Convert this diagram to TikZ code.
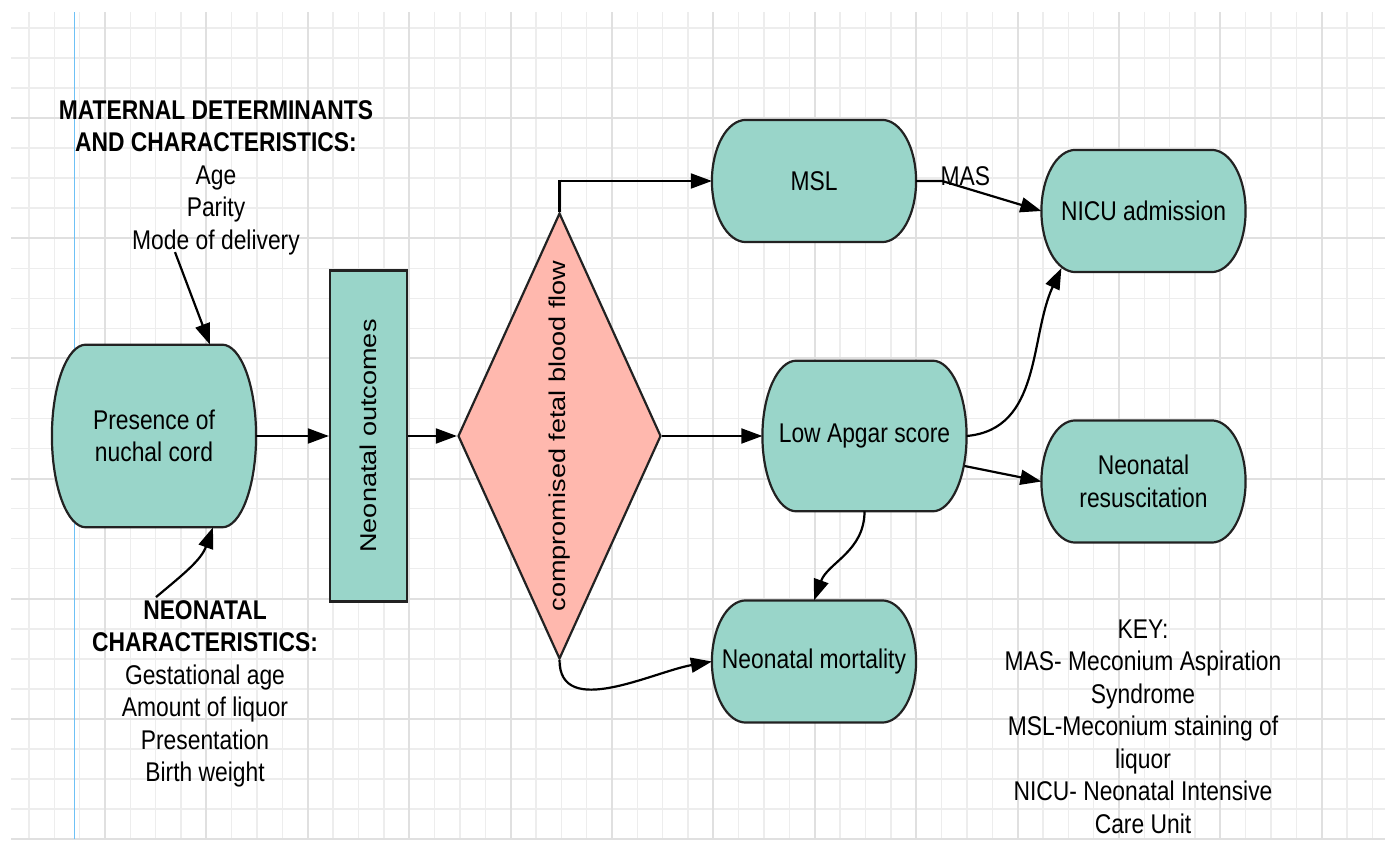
\documentclass[tikz,border=0pt]{standalone}
\usepackage{fontspec}
\setmainfont{Liberation Sans}[FakeStretch=0.844]
\newfontfamily\rotfont{Liberation Sans}[FakeStretch=1.185]
\usepackage{xcolor}
\usepackage{tikz}
\usetikzlibrary{
  arrows.meta, positioning, calc, shapes.geometric, backgrounds
}

\definecolor{boxteal}{HTML}{99D5C9}
\definecolor{diasalmon}{HTML}{FFB8AE}
\definecolor{gridminor}{HTML}{EDEDED}
\definecolor{gridmajor}{HTML}{E0E0E0}
\definecolor{gridblue}{HTML}{6EC1F5}
\definecolor{edgegray}{HTML}{222222}

\newcommand{\termrx}{0.68cm}
\newcommand{\termpath}[1]{%
  \path[termbox] let \p1=(#1.north east), \p2=(#1.south west), \n1={0.5*(\y1-\y2)} in
    (\x2+\termrx,\y1) -- (\x1-\termrx,\y1)
    arc[start angle=90, end angle=-90, x radius=\termrx, y radius=\n1]
    -- (\x2+\termrx,\y2)
    arc[start angle=270, end angle=90, x radius=\termrx, y radius=\n1] -- cycle;}

\begin{document}
\begin{tikzpicture}[
      x=0.02cm, y=0.02cm,
      font=\fontsize{15.4pt}{18.5pt}\selectfont,
      term/.style={minimum width=4.07cm, minimum height=2.43cm, inner sep=0pt, align=center},
      termbox/.style={draw=edgegray, fill=boxteal, line width=1.25pt},
      bar/.style={draw=edgegray, fill=boxteal, line width=1.25pt, inner sep=0pt},
      txt/.style={inner sep=0pt, align=center},
      flow/.style={-{Triangle[length=12pt, width=8.5pt]}, line width=1.25pt},
      gridthin/.style={draw=gridminor, line width=0.8pt},
      gridthick/.style={draw=gridmajor, line width=1.1pt},
    ]
    \useasboundingbox (0,0) rectangle (1389,842);

    \node[term, minimum height=3.64cm] (pres) at (154,406) {Presence of\\nuchal cord};
    \node[bar, minimum width=1.54cm, minimum height=6.62cm] (outc) at (368.5,406)
      {\rotatebox{90}{\rotfont\fontsize{13pt}{15pt}\selectfont Neonatal outcomes}};
    \node[bar, diamond, fill=diasalmon, aspect=0.455, minimum width=4.06cm, minimum height=8.92cm] (cfbf) at (559.5,406)
      {\rotatebox{90}{\rotfont\fontsize{13pt}{15pt}\selectfont compromised fetal blood flow}};
    \node[term] (msl) at (814,661) {MSL};
    \node[term] (nicu) at (1143.5,631) {NICU admission};
    \node[term, minimum height=3cm] (apgar) at (864.5,406) {Low Apgar score};
    \node[term] (resus) at (1143.5,360.5) {Neonatal\\resuscitation};
    \node[term] (mort) at (814,180.5) {Neonatal mortality};

    \node[txt] (mat) at (216,664.5) {\textbf{MATERNAL DETERMINANTS}\\\textbf{AND CHARACTERISTICS:}\\Age\\Parity\\Mode of delivery};
    \node[txt] (neo) at (205,148) {\textbf{NEONATAL}\\\textbf{CHARACTERISTICS:}\\Gestational age\\Amount of liquor\\Presentation\\Birth weight};
    \node[txt] (key) at (1143,115.5) {KEY:\\MAS- Meconium Aspiration\\Syndrome\\MSL-Meconium staining of\\liquor\\NICU- Neonatal Intensive\\Care Unit};

    \draw[flow] ($(mat.south)+(-41,3)$) -- ($(pres.north)+(56,0)$);
    \draw[flow] ($(neo.north)+(-49,3)$) to[out=40, in=-110] ($(pres.south)+(59,0)$);
    \draw[flow] (pres.east) -- (outc.west);
    \draw[flow] (outc.east) -- (cfbf.west);
    \draw[flow] (cfbf.north) |- (msl.west);
    \draw[flow] (cfbf.east) -- (apgar.west);
    \draw[flow] (cfbf.south) to[out=-90, in=190] (mort.west);
    \draw[flow] (msl.east) -- ++(26,0) -- node[txt, pos=0.235, yshift=6.8pt] {MAS} (nicu.west);
    \draw[flow] (apgar.east) to[out=5, in=-115] ($(nicu.south west)+(20,4)$);
    \draw[flow] ($(apgar.east)+(-2,-30)$) -- (resus.west);
    \draw[flow] (apgar.south) to[out=-90, in=70] (mort.north);

    \begin{scope}[on background layer]
      \foreach \i in {0,...,53} \draw[gridthin] ({28.95+25.35*\i},3) -- ({28.95+25.35*\i},830);
      \foreach \j in {0,...,27} \draw[gridthin] (11,{814.15-30.05*\j}) -- (1385,{814.15-30.05*\j});
      \foreach \i in {3,7,...,51} \draw[gridthick] ({28.95+25.35*\i},3) -- ({28.95+25.35*\i},830);
      \foreach \j in {3,7,...,27} \draw[gridthick] (11,{814.15-30.05*\j}) -- (1385,{814.15-30.05*\j});
      \draw[gridblue, line width=0.9pt] (74.3,3) -- (74.3,830);
      \termpath{pres}
      \termpath{msl}
      \termpath{nicu}
      \termpath{apgar}
      \termpath{resus}
      \termpath{mort}
    \end{scope}
  \end{tikzpicture}
\end{document}
